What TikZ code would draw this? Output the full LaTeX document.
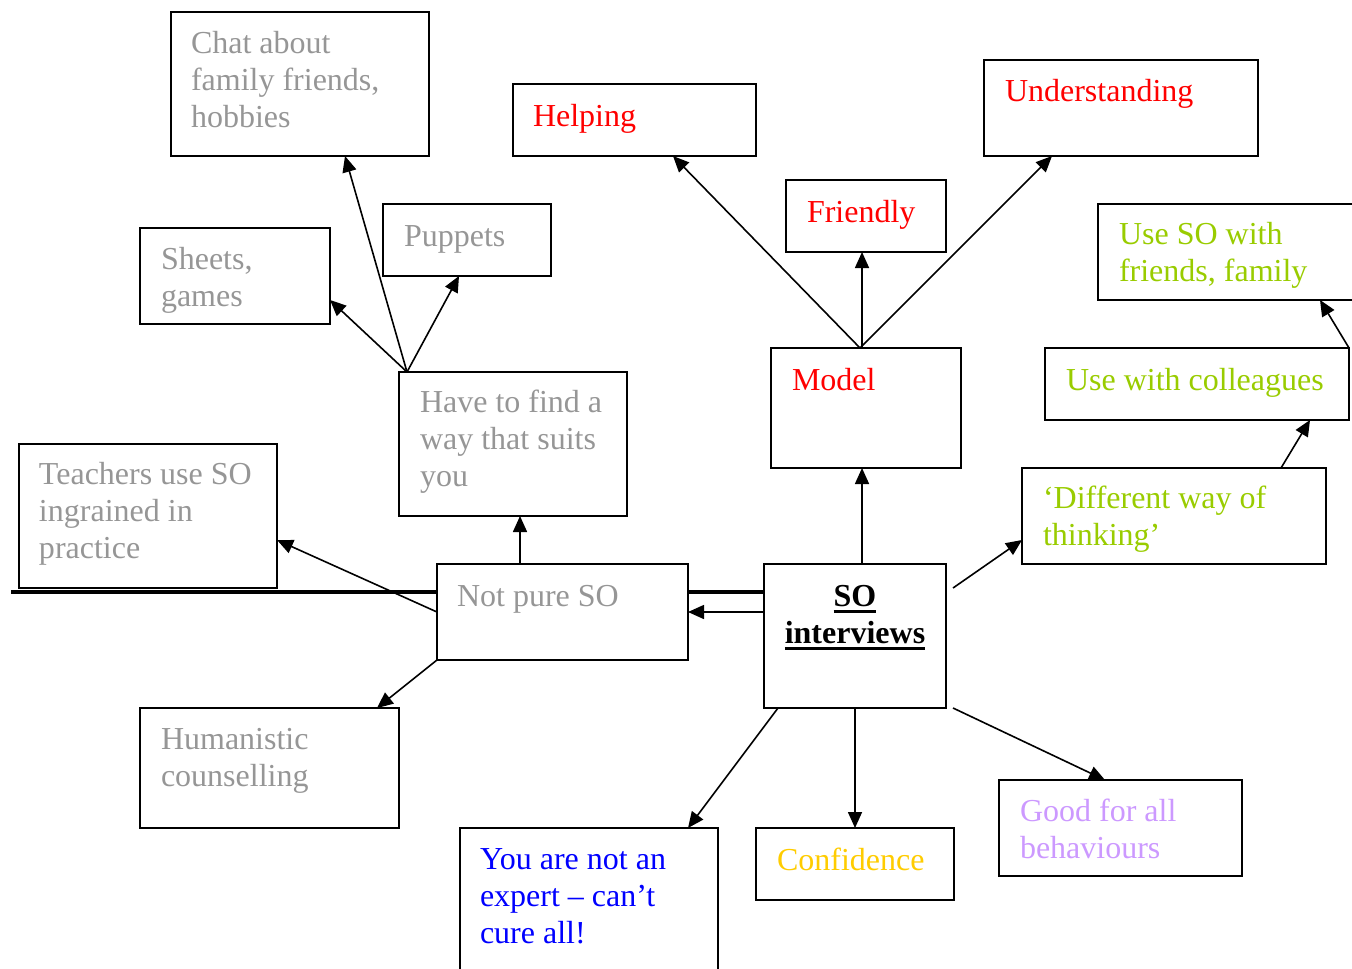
\documentclass[tikz,border=0pt]{standalone}
\usepackage{fontspec}
\setmainfont{Liberation Serif}
\usetikzlibrary{arrows.meta,calc}

\definecolor{soGrey}{HTML}{969696}
\definecolor{soRed}{HTML}{FF0000}
\definecolor{soGreen}{HTML}{99CC00}
\definecolor{soBlue}{HTML}{0000FF}
\definecolor{soYellow}{HTML}{FFCC00}
\definecolor{soLilac}{HTML}{CC99FF}

% box from corner (x1,y1) to corner (x2,y2), in pixel units
\newcommand\soBox[5]{\node[bx,minimum width={(#4-#2)*0.5pt},minimum height={(#5-#3)*0.5pt}] (#1) at (#2,#3) {};}
% word with a heavy underline
\newcommand\soUline[2]{\setbox0\hbox{#2}\rlap{\rule[-#1]{\wd0}{1.6pt}}\box0}

\begin{document}
\begin{tikzpicture}[x=0.5pt,y=-0.5pt,
  bx/.style={draw,line width=1pt,inner sep=0,outer sep=0,anchor=north west},
  txt/.style={inner sep=0,outer sep=0,anchor=north west,align=left,yshift=-0.5pt,font=\fontsize{16}{18.6}\selectfont},
  arr/.style={line width=0.8pt,-{Triangle[length=8pt,width=7pt]}},
  bar/.style={line width=2pt}]
\useasboundingbox (0,0) rectangle (1352,968);

% boxes
\soBox{ch}{171}{12}{429}{156}
\soBox{he}{513}{84}{756}{156}
\soBox{un}{984}{60}{1258}{156}
\soBox{fr}{786}{180}{946}{252}
\soBox{pp}{383}{204}{551}{276}
\soBox{sh}{140}{228}{330}{324}
\soBox{us}{1098}{204}{1370}{300}
\soBox{mo}{771}{348}{961}{468}
\soBox{uc}{1045}{348}{1349}{420}
\soBox{hv}{399}{372}{627}{516}
\soBox{te}{19}{444}{277}{588}
\soBox{di}{1022}{468}{1326}{564}
\soBox{np}{437}{564}{688}{660}
\soBox{si}{764}{564}{946}{708}
\soBox{hu}{140}{708}{399}{828}
\soBox{yo}{460}{828}{718}{990}
\soBox{co}{756}{828}{954}{900}
\soBox{go}{999}{780}{1242}{876}

% texts
\node[txt,text=soGrey] (ch-t) at (191,26) {\strut Chat about\\family friends,\\hobbies};
\node[txt,text=soRed] (he-t) at (533,99) {\strut Helping};
\node[txt,text=soRed] (un-t) at (1005,74) {\strut Understanding};
\node[txt,text=soRed] (fr-t) at (807,195) {\strut Friendly};
\node[txt,text=soGrey] (pp-t) at (404,219) {\strut Puppets};
\node[txt,text=soGrey] (sh-t) at (161,242) {\strut Sheets,\\games};
\node[txt,text=soGreen] (us-t) at (1119,217) {\strut Use SO with\\friends, family};
\node[txt,text=soRed] (mo-t) at (792,363) {\strut Model};
\node[txt,text=soGreen] (uc-t) at (1066,363) {\strut Use with colleagues};
\node[txt,text=soGrey] (hv-t) at (420,385) {\strut Have to find a\\way that suits\\you};
\node[txt,text=soGrey] (te-t) at (39,457) {\strut Teachers use SO\\ingrained in\\practice};
\node[txt,text=soGreen] (di-t) at (1043,481) {\strut ‘Different way of\\thinking’};
\node[txt,text=soGrey] (np-t) at (457,579) {\strut Not pure SO};
\node[txt,anchor=north,align=center,font=\fontsize{16}{18.6}\selectfont\bfseries] (si-t) at (855,579)
  {\strut\soUline{3.5pt}{SO}\\\soUline{3.3pt}{interviews}};
\node[txt,text=soGrey] (hu-t) at (161,722) {\strut Humanistic\\counselling};
\node[txt,text=soBlue] (yo-t) at (480,842) {\strut You are not an\\expert – can’t\\cure all!};
\node[txt,text=soYellow] (co-t) at (777,843) {\strut Confidence};
\node[txt,text=soLilac] (go-t) at (1020,794) {\strut Good for all\\behaviours};

% heavy rules
\coordinate (barL) at (11,592);
\draw[bar] (barL) -- (barL -| np.west);
\draw[bar] (barL -| np.east) -- (barL -| si.west);

% connectors around "Not pure SO"
\draw[arr] (np.east -| si.west) -- (np.east);
\draw[arr] ($(np.north west)+(83,0)$) coordinate (npTop) -- (npTop |- hv.south);
\draw[arr] (np.west) -- ($(te.north east)+(0,96)$);
\draw[arr] (np.south west) -- ($(hu.north west)+(237,0)$);

% connectors from "Have to find a way"
\coordinate (hvTop) at ($(hv.north west)+(8,0)$);
\draw[arr] (hvTop) -- ($(sh.north east)+(0,72)$);
\draw[arr] (hvTop) -- ($(ch.south west)+(174,0)$);
\draw[arr] (hvTop) -- ($(pp.south west)+(76,0)$);

% connectors from "SO interviews" and "Model"
\draw[arr] ($(si.north west)+(98,0)$) coordinate (siTop) -- (siTop |- mo.south);
\coordinate (moTop) at ($(mo.north west)+(89,0)$);
\draw[arr] (moTop) -- ($(he.south west)+(160,0)$);
\draw[arr] ($(mo.north west)+(91,0)$) -- ($(fr.south west)+(76,0)$);
\draw[arr] (moTop) -- ($(un.south west)+(68,0)$);

% connectors on the right
\draw[arr] ($(si.north east)+(7,24)$) -- ($(di.north west)+(0,72)$);
\draw[arr] ($(di.north west)+(259,0)$) -- ($(uc.south west)+(265,0)$);
\draw[arr] (uc.north east) -- ($(us.south west)+(222,0)$);

% connectors below
\draw[arr] ($(si.south west)+(14,0)$) -- ($(yo.north west)+(228,0)$);
\draw[arr] (si.south) -- (si.south |- co.north);
\draw[arr] ($(si.south east)+(7,0)$) -- ($(go.north west)+(106,0)$);
\end{tikzpicture}
\end{document}
